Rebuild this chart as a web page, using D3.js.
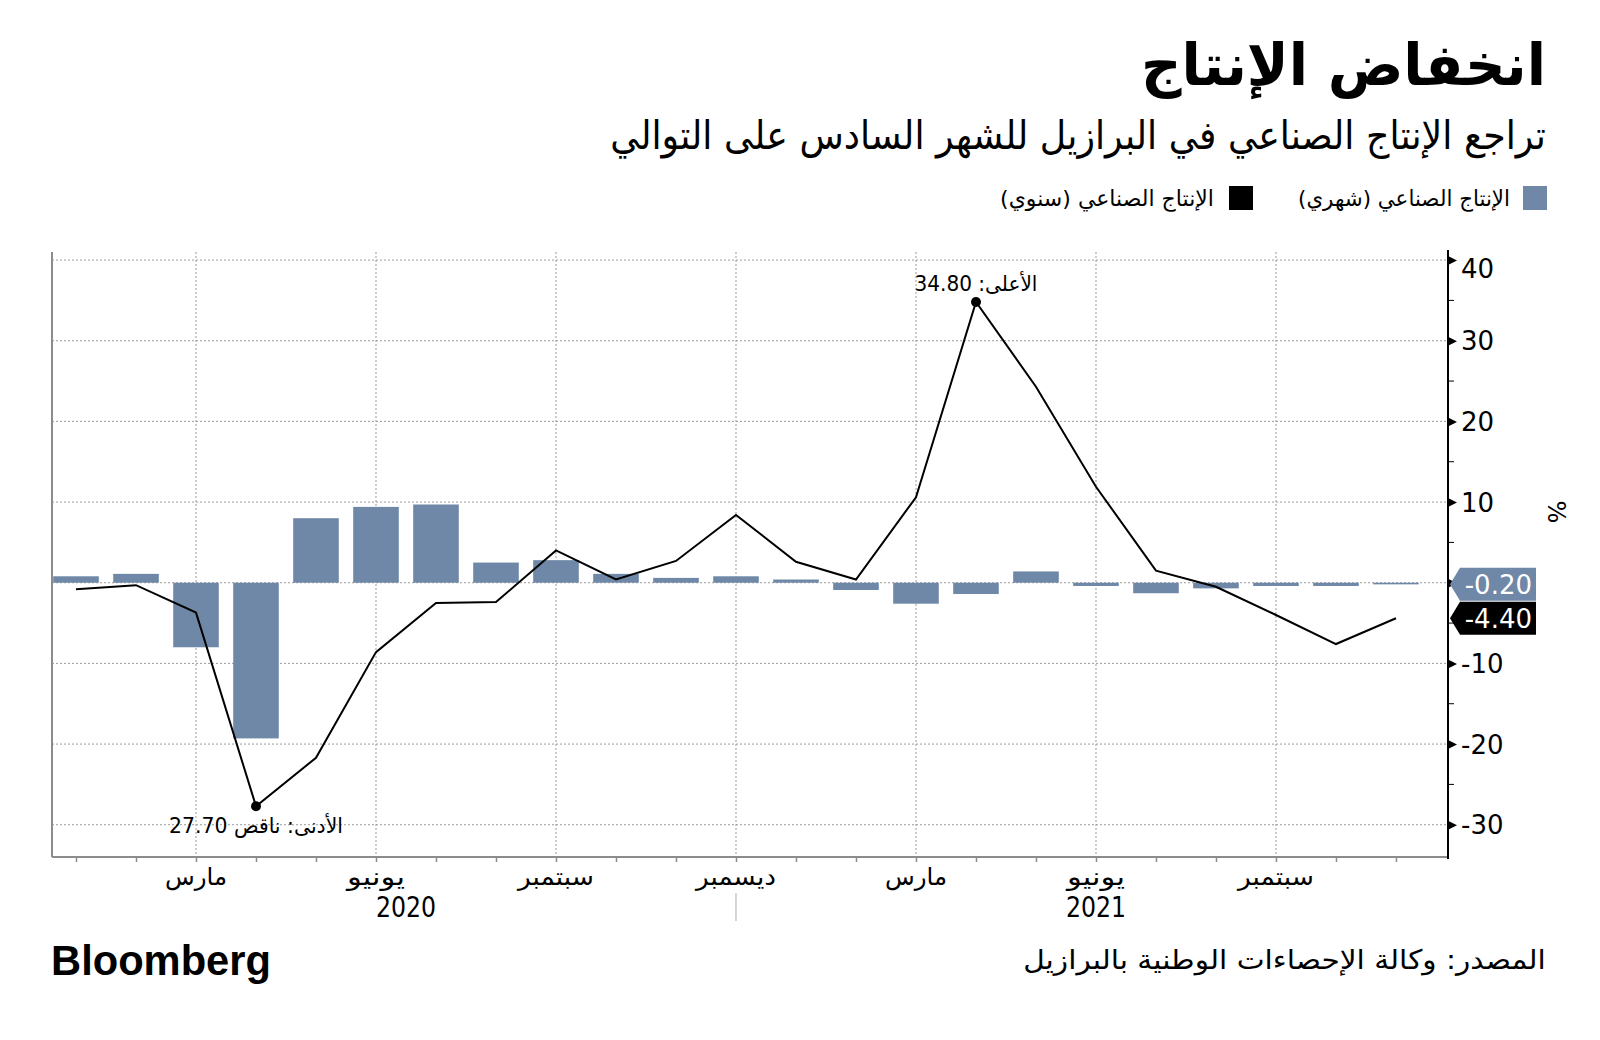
<!DOCTYPE html>
<html>
<head>
<meta charset="utf-8">
<script src="https://cdn.jsdelivr.net/npm/d3@7"></script>
<style>
  html, body { margin: 0; padding: 0; background: #ffffff; }
  svg { display: block; }
  text { font-family: "DejaVu Sans", sans-serif; }
</style>
</head>
<body>
<svg id="chart" width="1600" height="1040"></svg>
<script>
// ---------------- DATA ----------------
const months = ["2020-01","2020-02","2020-03","2020-04","2020-05","2020-06","2020-07","2020-08","2020-09","2020-10","2020-11","2020-12",
                "2021-01","2021-02","2021-03","2021-04","2021-05","2021-06","2021-07","2021-08","2021-09","2021-10","2021-11"];
// Industrial production, month-on-month (%)
const monthlyChange = [0.8, 1.1, -8.0, -19.3, 8.0, 9.4, 9.7, 2.5, 2.8, 1.1, 0.6, 0.8,
                       0.4, -0.9, -2.6, -1.4, 1.4, -0.4, -1.3, -0.7, -0.4, -0.4, -0.2];
// Industrial production, year-on-year (%)
const yearlyChange = [-0.8, -0.3, -3.7, -27.7, -21.7, -8.6, -2.5, -2.4, 4.0, 0.4, 2.7, 8.4,
                      2.6, 0.4, 10.6, 34.8, 24.3, 11.9, 1.5, -0.5, -4.0, -7.6, -4.4];
const yTickValues = [-30, -20, -10, 0, 10, 20, 30, 40];
const yLabelValues = [-30, -20, -10, 10, 20, 30, 40];   // the 0 label is hidden behind the value tags
const yMinorTickValues = [-25, -15, -5, 5, 15, 25, 35];
const xLabelMonths = ["2020-03","2020-06","2020-09","2020-12","2021-03","2021-06","2021-09"];
const xLabelTexts = ["مارس","يونيو","سبتمبر","ديسمبر","مارس","يونيو","سبتمبر"];
const yearNames = ["2020", "2021"];
const yearSeparatorMonth = "2020-12";

const titleText = "انخفاض الإنتاج";
const subtitleText = "تراجع الإنتاج الصناعي في البرازيل للشهر السادس على التوالي";
const legendMonthly = "الإنتاج الصناعي (شهري)";
const legendYearly = "الإنتاج الصناعي (سنوي)";
const maxLabel = "الأعلى: 34.80";
const minLabel = "الأدنى: ناقص 27.70";
const sourceText = "المصدر: وكالة الإحصاءات الوطنية بالبرازيل";
const unitText = "%";

// ---------------- LAYOUT ----------------
const svg = d3.select("#chart");
const P = { left: 52, right: 1448, top: 252, bottom: 857 };
const step = 60;
const barColor = "#6f88a8";
const gridColor = "#9a9a9a";

const x = d3.scalePoint().domain(months).range([P.left + 0.4 * step, P.right - 0.867 * step]);
const y = d3.scaleLinear().domain([-34, 41]).range([P.bottom, P.top]);

// helper: place text centred at (cx, baseline) and squeeze it to a target width
function placeText(g, str, cx, baseline, size, opts) {
  opts = opts || {};
  const t = g.append("text")
    .attr("font-size", size)
    .attr("font-weight", opts.weight || "normal")
    .attr("fill", opts.fill || "#000")
    .attr("text-anchor", "middle")
    .attr("direction", opts.rtl ? "rtl" : "ltr")
    .style("font-family", opts.family || "\"DejaVu Sans\", sans-serif")
    .text(str);
  let sx = 1;
  if (opts.width) {
    const w = t.node().getComputedTextLength();
    if (w > 0) sx = opts.width / w;
  }
  t.attr("transform", `translate(${cx},${baseline}) scale(${sx},1)`);
  return t;
}

// ---------------- GRID ----------------
const grid = svg.append("g");
grid.selectAll("line.h").data(yTickValues).join("line")
  .attr("x1", P.left).attr("x2", P.right)
  .attr("y1", d => y(d)).attr("y2", d => y(d))
  .attr("stroke", gridColor).attr("stroke-width", 1).attr("stroke-dasharray", "2,2");
grid.selectAll("line.v").data(xLabelMonths).join("line")
  .attr("x1", d => x(d)).attr("x2", d => x(d))
  .attr("y1", P.top).attr("y2", P.bottom)
  .attr("stroke", gridColor).attr("stroke-width", 1).attr("stroke-dasharray", "2,2");

// frame (left)
svg.append("line").attr("x1", P.left).attr("x2", P.left).attr("y1", P.top).attr("y2", P.bottom)
  .attr("stroke", "#8c8c8c").attr("stroke-width", 2);

// ---------------- BARS ----------------
const barW = step * 0.76;
svg.append("g").selectAll("rect").data(months).join("rect")
  .attr("x", d => x(d) - barW / 2)
  .attr("width", barW)
  .attr("y", (d, i) => y(Math.max(0, monthlyChange[i])))
  .attr("height", (d, i) => Math.max(1, Math.abs(y(monthlyChange[i]) - y(0))))
  .attr("fill", barColor);

// ---------------- LINE ----------------
const line = d3.line().x((d, i) => x(months[i])).y(d => y(d));
svg.append("path").datum(yearlyChange)
  .attr("d", line).attr("fill", "none").attr("stroke", "#000").attr("stroke-width", 2)
  .attr("stroke-linejoin", "miter");

// extremes
const iMax = yearlyChange.indexOf(d3.max(yearlyChange));
const iMin = yearlyChange.indexOf(d3.min(yearlyChange));
svg.append("circle").attr("cx", x(months[iMax])).attr("cy", y(yearlyChange[iMax])).attr("r", 5).attr("fill", "#000");
svg.append("circle").attr("cx", x(months[iMin])).attr("cy", y(yearlyChange[iMin])).attr("r", 5).attr("fill", "#000");
const ann = svg.append("g");
placeText(ann, maxLabel, x(months[iMax]), y(yearlyChange[iMax]) - 11, 21, { rtl: true, width: 123 });
placeText(ann, minLabel, x(months[iMin]), y(yearlyChange[iMin]) + 27, 21, { rtl: true, width: 174 });

// ---------------- X AXIS ----------------
const xAxisG = svg.append("g").attr("transform", `translate(0,${P.bottom})`)
  .call(d3.axisBottom(x).tickSize(5).tickFormat(""));
xAxisG.select(".domain").remove();
xAxisG.selectAll(".tick line").attr("stroke", "#8c8c8c").attr("stroke-width", 1.5);
svg.append("line").attr("x1", P.left).attr("x2", P.right).attr("y1", P.bottom).attr("y2", P.bottom)
  .attr("stroke", "#8c8c8c").attr("stroke-width", 2);

const xl = svg.append("g");
xLabelMonths.forEach((m, i) => {
  placeText(xl, xLabelTexts[i], x(m), 885, 24, { rtl: true, width: [62, 58, 76, 80, 62, 58, 76][i] });
});
// year labels centred on the span of each year's months
yearNames.forEach(yr => {
  const ms = months.filter(m => m.startsWith(yr));
  const cx = (x(ms[0]) + x(ms[ms.length - 1])) / 2;
  placeText(xl, yr, cx, 917, 28, { width: 60 });
});
svg.append("line")
  .attr("x1", x(yearSeparatorMonth)).attr("x2", x(yearSeparatorMonth))
  .attr("y1", 893).attr("y2", 921).attr("stroke", "#aaaaaa").attr("stroke-width", 1);

// ---------------- Y AXIS (right) ----------------
const yAxisG = svg.append("g").attr("transform", `translate(${P.right},0)`)
  .call(d3.axisRight(y).tickValues(yTickValues).tickSize(0).tickPadding(13).tickFormat(d3.format("d")));
yAxisG.select(".domain").attr("stroke", "#000").attr("stroke-width", 2)
  .attr("d", `M0,${P.top - 2}V${P.bottom + 2}`);
yAxisG.selectAll(".tick text")
  .attr("font-size", 26).attr("fill", "#000")
  .style("font-family", "\"DejaVu Sans\", sans-serif")
  .attr("dy", d => d === 40 ? "0.68em" : "0.35em")
  .text(d => yLabelValues.includes(d) ? (d < 0 ? "-" + Math.abs(d) : d) : "");
yAxisG.selectAll(".tick").append("path").attr("d", "M0,-4.5L9,0L0,4.5Z").attr("fill", "#000");
yAxisG.selectAll("line.minor").data(yMinorTickValues).join("line")
  .attr("x1", 0).attr("x2", 6).attr("y1", d => y(d)).attr("y2", d => y(d))
  .attr("stroke", "#000").attr("stroke-width", 1);

// unit label
svg.append("text").attr("transform", "translate(1548,512) rotate(90)")
  .attr("text-anchor", "middle").attr("font-size", 24).attr("fill", "#000").text(unitText);

// ---------------- LAST VALUE TAGS ----------------
function tag(v, fill) {
  const cy = y(v), x0 = P.right + 2, h = 33, w = 86, tip = 10;
  const g = svg.append("g");
  g.append("path")
    .attr("d", `M${x0},${cy} L${x0 + tip},${cy - h / 2} H${x0 + w} V${cy + h / 2} H${x0 + tip} Z`)
    .attr("fill", fill);
  g.append("text").attr("x", x0 + w - 4).attr("y", cy + 9.5).attr("text-anchor", "end")
    .attr("font-size", 26).attr("fill", "#fff").text(d3.format(".2f")(v).replace("−", "-"));
}
tag(monthlyChange[monthlyChange.length - 1], barColor);
tag(yearlyChange[yearlyChange.length - 1], "#000");

// ---------------- TITLES ----------------
const head = svg.append("g");
placeText(head, titleText, 1343.5, 85, 58, { rtl: true, weight: "bold", width: 405 });
placeText(head, subtitleText, 1078, 149, 39, { rtl: true, width: 936 });

// legend
svg.append("rect").attr("x", 1523).attr("y", 186).attr("width", 24).attr("height", 24).attr("fill", barColor);
svg.append("rect").attr("x", 1229).attr("y", 186).attr("width", 24).attr("height", 24).attr("fill", "#000");
placeText(head, legendMonthly, 1404, 206, 22, { rtl: true, width: 212 });
placeText(head, legendYearly, 1107, 206, 22, { rtl: true, width: 214 });

// footer
placeText(svg, "Bloomberg", 161, 975, 42, { weight: "bold", width: 220, family: "\"Liberation Sans\", Arial, sans-serif" });
placeText(svg, sourceText, 1284.5, 969, 27, { rtl: true, width: 523 });
</script>
</body>
</html>
